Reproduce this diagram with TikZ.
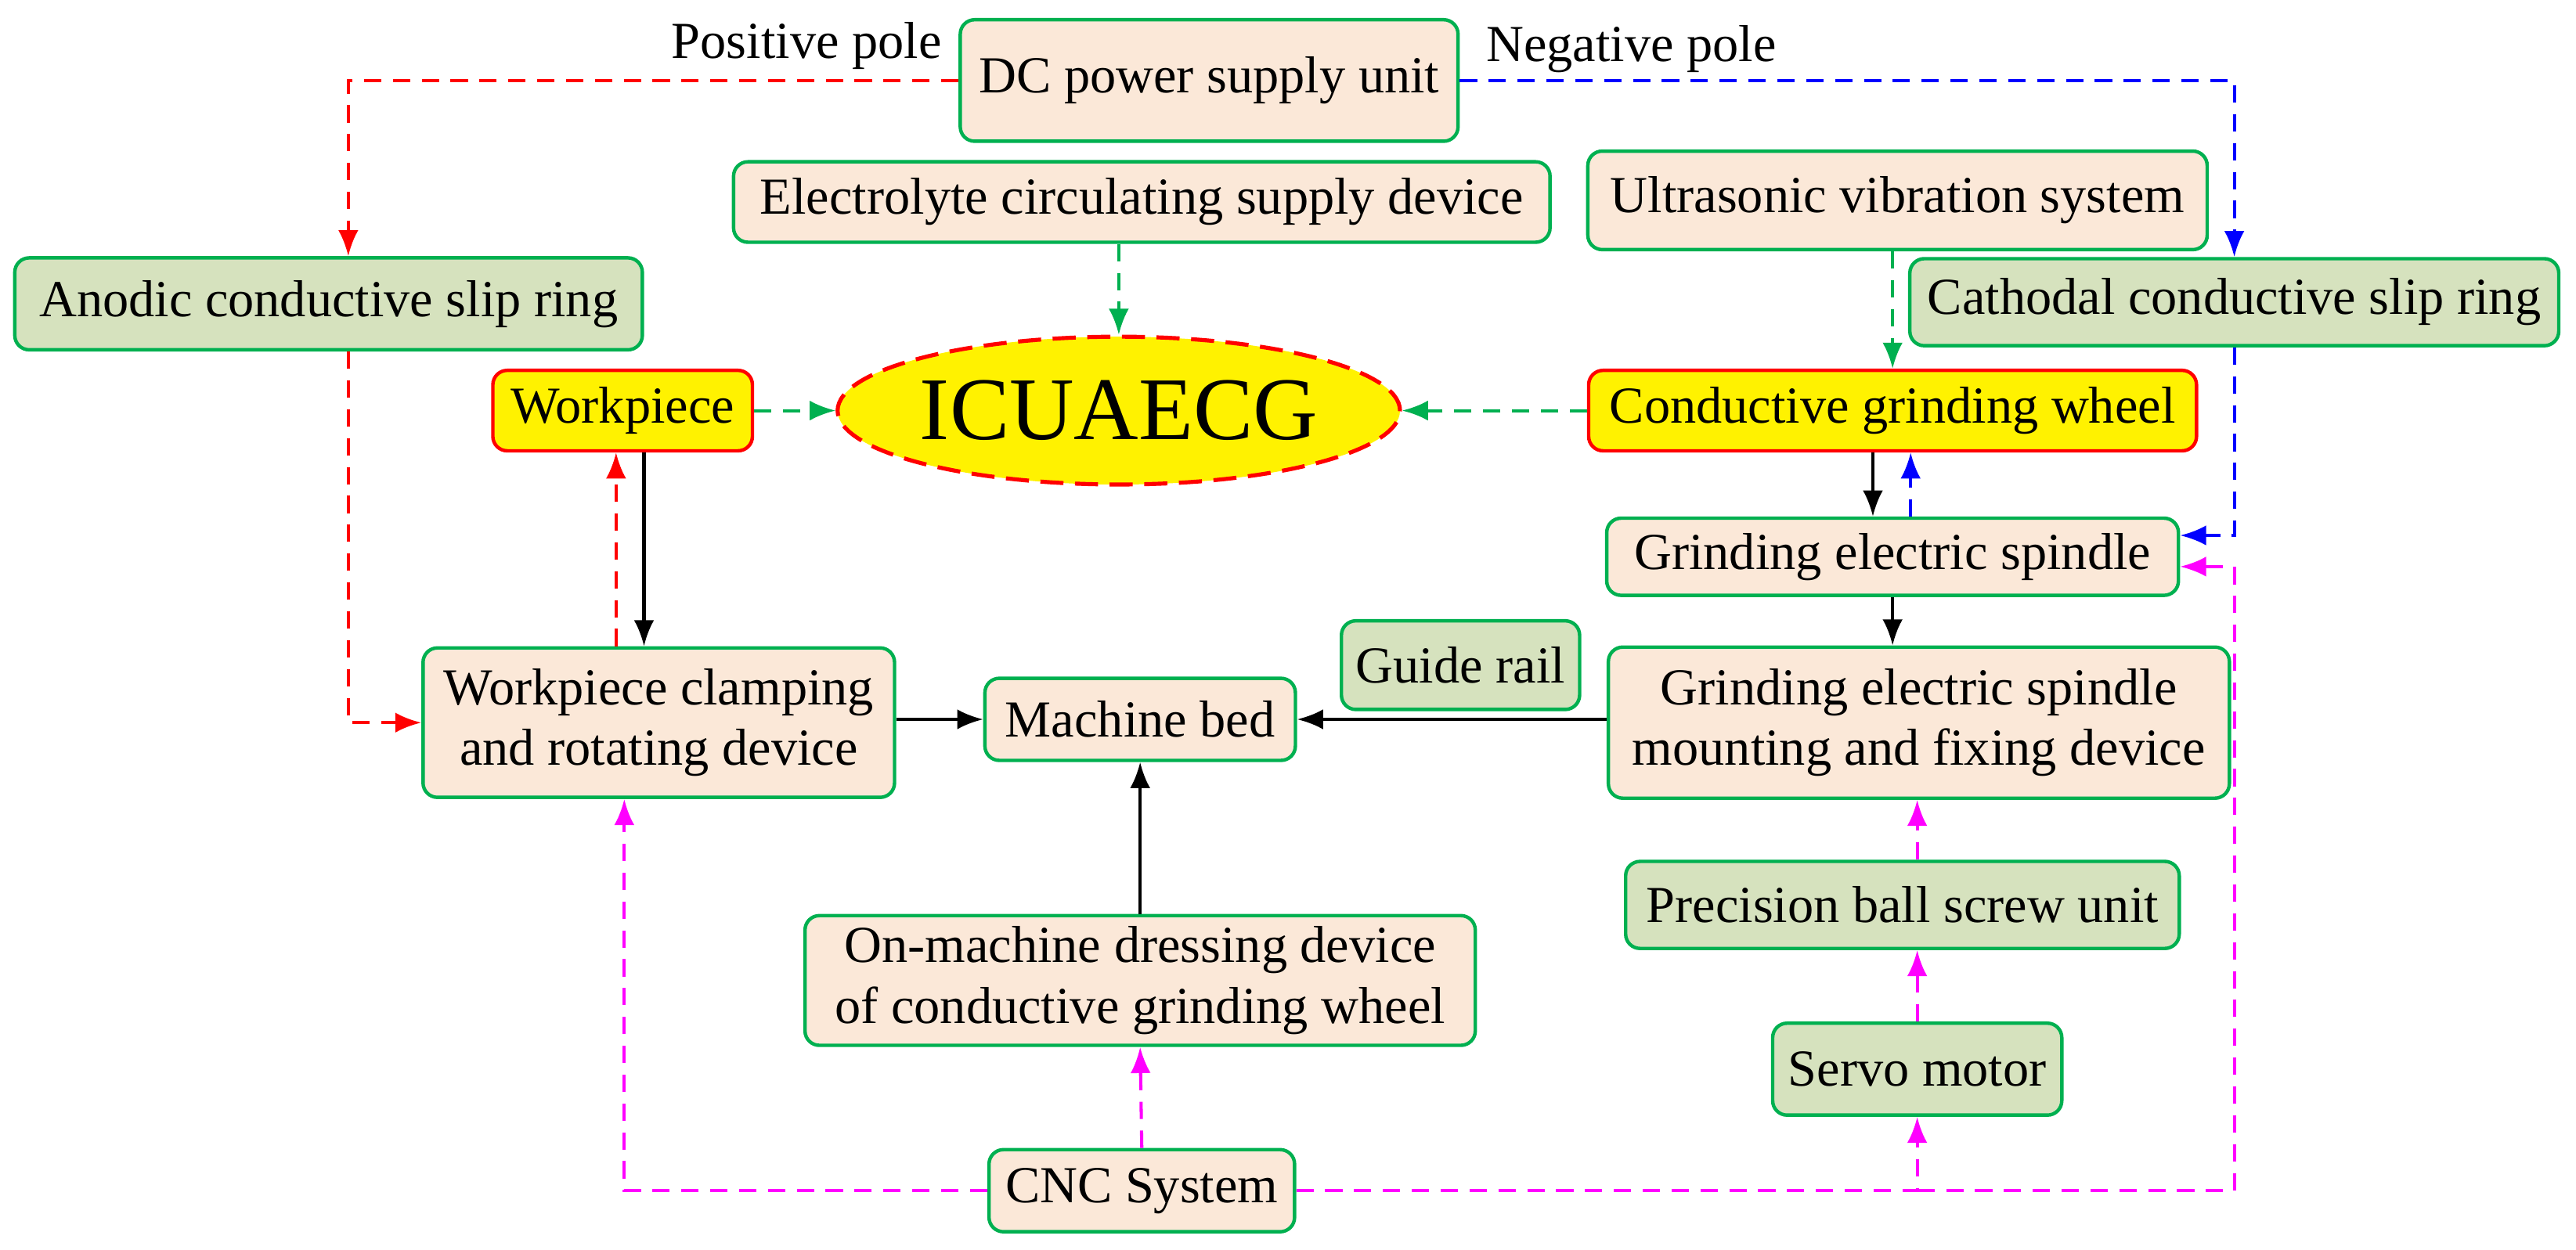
\documentclass[tikz,border=0pt]{standalone}
\usepackage{fontspec}
\setmainfont{Liberation Serif}
\usetikzlibrary{arrows.meta,shapes.geometric,calc}
\definecolor{peach}{RGB}{251,232,216}
\definecolor{lgreen}{RGB}{214,226,190}
\definecolor{bgreen}{RGB}{0,176,80}
\definecolor{ared}{RGB}{255,0,0}
\definecolor{ablue}{RGB}{0,0,255}
\definecolor{mag}{RGB}{255,0,255}
\begin{document}
\begin{tikzpicture}[x=0.02cm,y=-0.02cm,
 box/.style={draw=bgreen,line width=1.2pt,rounded corners=5pt,fill=peach,font=\fontsize{18}{21}\selectfont,align=center,inner sep=2pt},
 gbox/.style={box,fill=lgreen},
 ybox/.style={box,fill=yellow,draw=ared},
 ar/.style={-{Latex[length=9pt,width=7pt]},line width=1.1pt},
 da/.style={ar,dash pattern=on 6pt off 4pt},
 lbl/.style={font=\fontsize{18}{21}\selectfont}]
\useasboundingbox (0,0) rectangle (1568,761);
\node[box,minimum width=303*0.02cm,minimum height=74*0.02cm] (dc) at (736,49) {DC power supply unit};
\node[box,minimum width=497*0.02cm,minimum height=49*0.02cm] (el) at (695,123) {Electrolyte circulating supply device};
\node[box,minimum width=377*0.02cm,minimum height=60*0.02cm] (us) at (1155,122) {Ultrasonic vibration system};
\node[gbox,minimum width=382*0.02cm,minimum height=56*0.02cm] (an) at (200,185) {Anodic conductive slip ring};
\node[gbox,minimum width=395*0.02cm,minimum height=53*0.02cm] (ca) at (1360,184) {Cathodal conductive slip ring};
\node[ybox,minimum width=158*0.02cm,minimum height=49*0.02cm] (wp) at (379,250) {Workpiece};
\node[ellipse,draw=ared,line width=1.4pt,dash pattern=on 8pt off 4pt,fill=yellow,minimum width=308*0.02cm,minimum height=90*0.02cm,inner sep=0pt,font=\fontsize{31}{36}\selectfont] (ic) at (681,250) {ICUAECG};
\node[ybox,minimum width=370*0.02cm,minimum height=49*0.02cm] (gw) at (1152,250) {Conductive grinding wheel};
\node[box,minimum width=348*0.02cm,minimum height=47*0.02cm] (sp) at (1152,339) {Grinding electric spindle};
\node[gbox,minimum width=145*0.02cm,minimum height=54*0.02cm] (gr) at (889,405) {Guide rail};
\node[box,minimum width=287*0.02cm,minimum height=91*0.02cm] (cl) at (401,440) {Workpiece clamping\\and rotating device};
\node[box,minimum width=189*0.02cm,minimum height=50*0.02cm] (mb) at (694,438) {Machine bed};
\node[box,minimum width=378*0.02cm,minimum height=92*0.02cm] (mt) at (1168,440) {Grinding electric spindle\\mounting and fixing device};
\node[gbox,minimum width=337*0.02cm,minimum height=53*0.02cm] (bs) at (1158,551) {Precision ball screw unit};
\node[box,minimum width=408*0.02cm,minimum height=79*0.02cm] (dr) at (694,597) {On-machine dressing device\\of conductive grinding wheel};
\node[gbox,minimum width=176*0.02cm,minimum height=56*0.02cm] (sv) at (1167,651) {Servo motor};
\node[box,minimum width=186*0.02cm,minimum height=50*0.02cm] (cnc) at (695,725) {CNC System};
\node[lbl] (pp) at (491,28) {Positive pole};
\node[lbl] (np) at (993,30) {Negative pole};
% power
\draw[da,ared] (dc.west) -| (an.north -| 212,0);
\draw[da,ablue] (dc.east) -| (ca.north);
\draw[da,ared] (an.south -| 212,0) |- (cl.west);
\draw[da,ablue] (ca.south) |- (sp.east |- 0,326);
% green
\draw[da,bgreen] (el.south -| ic.north) -- (ic.north);
\draw[da,bgreen] (us.south -| gw.north) -- (gw.north);
\draw[da,bgreen] (wp.east) -- (ic.west);
\draw[da,bgreen] (gw.west) -- (ic.east);
% workpiece
\draw[da,ared] (cl.north -| 375,0) -- (wp.south -| 375,0);
\draw[ar] (wp.south -| 392,0) -- (cl.north -| 392,0);
\draw[ar] (gw.south -| 1140,0) -- (sp.north -| 1140,0);
\draw[da,ablue] (sp.north -| 1163,0) -- (gw.south -| 1163,0);
\draw[ar] (sp.south) -- (sp.south |- mt.north);
\draw[ar] (mt.west |- mb.east) -- (mb.east);
\draw[ar] (cl.east |- mb.west) -- (mb.west);
\draw[ar] (dr.north) -- (mb.south);
% magenta
\draw[da,mag] (cnc.north) -- (dr.south);
\draw[da,mag] (cnc.west) -| (cl.south -| 380,0);
\draw[da,mag] (cnc.east) -| (sv.south);
\draw[da,mag] (sv.south |- cnc.east) -| (1360,345) -- (sp.east |- 0,345);
\draw[da,mag] (sv.north) -- (sv.north |- bs.south);
\draw[da,mag] (bs.north -| sv.north) -- (mt.south -| sv.north);
\end{tikzpicture}
\end{document}
